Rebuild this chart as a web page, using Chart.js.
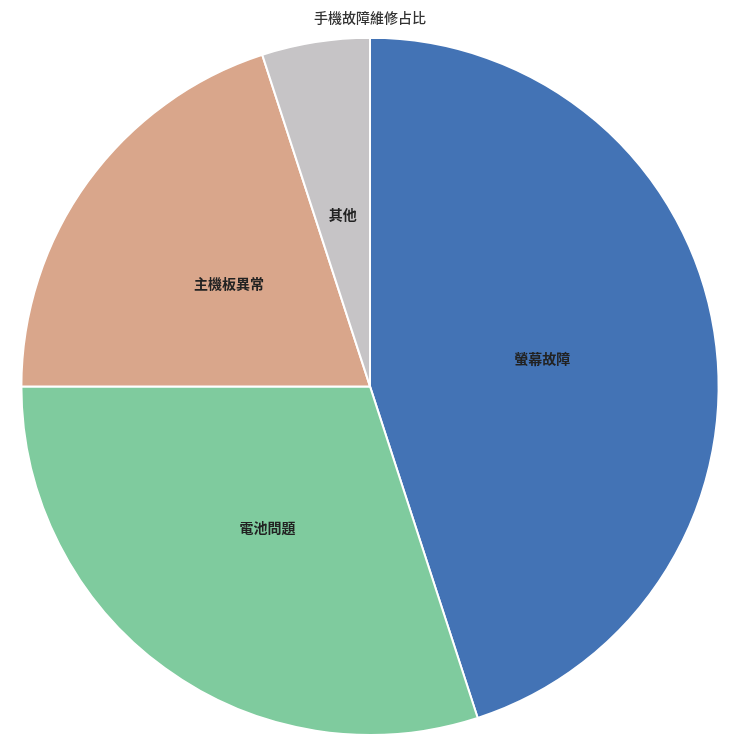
<!DOCTYPE html>
<html>
<head>
<meta charset="utf-8">
<script src="https://cdn.jsdelivr.net/npm/chart.js@4"></script>
<style>
  html, body { margin: 0; padding: 0; background: #ffffff; }
  #wrap { width: 740px; height: 736px; }
</style>
</head>
<body>
<div id="wrap"><canvas id="myChart"></canvas></div>
<script>
const labels = ["螢幕故障", "電池問題", "主機板異常", "其他"];
const values = [45, 30, 20, 5];
const colors = ["#4373b5", "#7fcb9e", "#d9a68b", "#c6c4c6"];

Chart.defaults.font.family = "'Noto Sans CJK TC', 'Noto Sans', sans-serif";

// draw the category names inside the slices
const sliceLabels = {
  id: 'sliceLabels',
  afterDatasetsDraw(chart) {
    const ctx = chart.ctx;
    const meta = chart.getDatasetMeta(0);
    ctx.save();
    ctx.font = "bold 14px 'Noto Sans CJK TC', sans-serif";
    ctx.fillStyle = "#222222";
    ctx.textAlign = "center";
    ctx.textBaseline = "middle";
    meta.data.forEach(function (arc, i) {
      const p = arc.getProps(['x', 'y', 'startAngle', 'endAngle', 'outerRadius'], true);
      const mid = (p.startAngle + p.endAngle) / 2;
      const r = p.outerRadius * 0.5;
      ctx.fillText(labels[i], p.x + Math.cos(mid) * r, p.y + Math.sin(mid) * r);
    });
    ctx.restore();
  }
};

var ctx = document.getElementById('myChart').getContext('2d');
var chart = new Chart(ctx, {
  type: 'pie',
  data: {
    labels: labels,
    datasets: [{
      data: values,
      backgroundColor: colors,
      borderColor: '#ffffff',
      borderWidth: 2
    }]
  },
  options: {
    responsive: true,
    maintainAspectRatio: false,
    animation: false,
    layout: { padding: 0 },
    plugins: {
      legend: { display: false },
      tooltip: { enabled: false },
      title: {
        display: true,
        text: '手機故障維修占比',
        color: '#333333',
        font: { size: 14, weight: '500' },
        padding: { top: 9, bottom: 11 }
      }
    }
  },
  plugins: [sliceLabels]
});
</script>
</body>
</html>
